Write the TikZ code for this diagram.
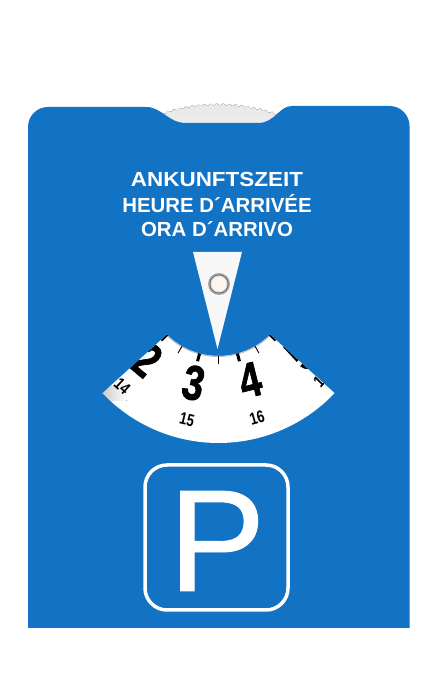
\documentclass[tikz,border=0pt]{standalone}
\usepackage{graphicx}
\usepackage{fontspec}
\setmainfont{Liberation Sans}
\newfontfamily\heavyfont[FakeBold=1.5]{Liberation Sans Bold}
\newfontfamily\signfont[FakeBold=0.6]{Liberation Sans}
\definecolor{cardblue}{HTML}{1272C4}
\tikzset{
  x=1pt,y=1pt,
  heading/.style={text=white,font=\fontsize{20.4}{22}\selectfont\bfseries,inner sep=0pt},
  bigdigit/.style={text=black,font=\fontsize{49}{49}\heavyfont,inner sep=0pt},
  smalldigit/.style={text=black,font=\fontsize{17}{17}\selectfont\bfseries,inner sep=0pt},
  thintick/.style={black,line width=.9pt},
  thicktick/.style={black,line width=3pt},
}
\newcommand{\cond}[1]{\scalebox{.78}[1]{#1}}
\begin{document}
\begin{tikzpicture}
\useasboundingbox (0,0) rectangle (436,682);
\fill[white] (0,0) rectangle (436,682);
% dial edge showing through the notch
\begin{scope}[shift={(218.5,399)}]
  \fill[top color=black!9,bottom color=black!3]
    plot[domain=68:112,samples=177] (\x:{178.5+0.9*sin((\x-68)*180)}) -- (112:130) -- (68:130) -- cycle;
\end{scope}
% card
\fill[cardblue] (28,54) -- (409.5,54) -- (409.5,556)
  arc[start angle=0,end angle=90,radius=20] -- (292,576)
  .. controls (279,576) and (275,559) .. (258,559) -- (186,559)
  .. controls (168,559) and (162,575) .. (146,575)
  -- (48,575) arc[start angle=90,end angle=180,radius=20] -- cycle;
% heading
\node[heading] (h1) at (217,503) {\scalebox{1.1}[1]{ANKUNFTSZEIT}};
\node[heading] (h2) at (217,478) {HEURE D´ARRIVÉE};
\node[heading] (h3) at (217,453) {ORA D´ARRIVO};
% window with dial
\begin{scope}[shift={(218.5,399)}]
  \begin{scope}
    \clip (223.5:160) arc[start angle=223.5,end angle=316.5,radius=160]
      -- (315:73) arc[start angle=315,end angle=225,radius=73] -- cycle;
    \fill[white] (-170,-170) rectangle (170,-40);
    \fill[left color=black!22,right color=white] (-118,-118) rectangle (-92,-103);
    \draw[black!25,line width=2pt] (315:73) arc[start angle=315,end angle=225,radius=73];
    \foreach \t in {-30,0,30}
      \draw[thintick] (270+\t:73) -- (270+\t:81);
    \foreach \t in {-45,-15,15,45}
      \draw[thicktick] (270+\t:73) -- (270+\t:81);
    \node[bigdigit,rotate=-40] (d2) at (270-43:105) {\cond{2}};
    \node[bigdigit,rotate=-12] (d3) at (270-14:103) {\cond{3}};
    \node[bigdigit,rotate=14] (d4) at (270+18:102) {\cond{4}};
    \node[bigdigit,rotate=46] (d5) at (270+49.5:109) {\cond{5}};
    \node[smalldigit,rotate=-43] (n14) at (270-43:141) {\cond{14}};
    \node[smalldigit,rotate=-13] (n15) at (270-13:140) {\cond{15}};
    \node[smalldigit,rotate=16] (n16) at (270+16:140) {\cond{16}};
    \node[smalldigit,rotate=46] (n17) at (270+47:141) {\cond{17}};
  \end{scope}
\end{scope}
% pointer and eyelet
\fill[black!3] (193,430) -- (242,430) -- (217.5,333) -- cycle;
\fill[black!35] (219,398) circle (11);
\fill[black!60] (219,398) circle (9.5);
\fill[black!15] (219,398) circle (8.6);
\fill[black!6!orange!8] (219,398) circle (7.5);
% parking sign
\draw[white,line width=3.5pt,rounded corners=22pt] (145,72) rectangle (288,217);
\node[text=white,font=\fontsize{145}{145}\signfont,inner sep=0pt] (p) at (217,141) {P};
\end{tikzpicture}
\end{document}
